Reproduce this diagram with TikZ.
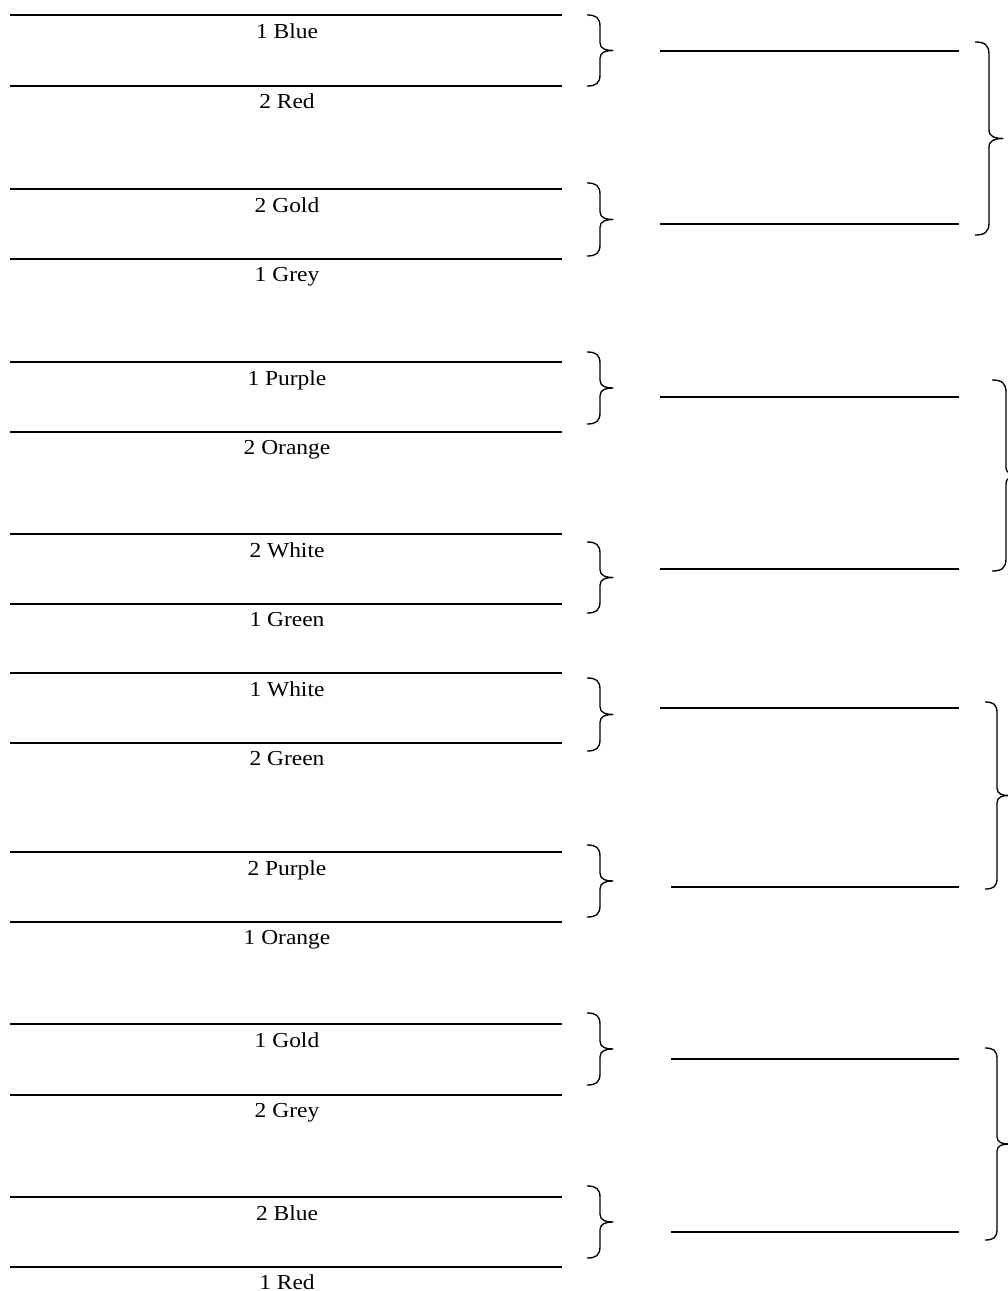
\documentclass[tikz,border=0pt]{standalone}
\usepackage{fontspec}
\setmainfont{Liberation Serif}[FakeStretch=1.1]
% x, top, bottom, depth (all in picture units)
\newcommand{\groupbrace}[4]{%
  \draw[bracestroke]
    (#1,#2) .. controls ({#1+0.35*#4},#2) and ({#1+0.5*#4},{#2+0.1*#4}) ..
    ({#1+0.5*#4},{#2+0.45*#4}) -- ({#1+0.5*#4},{(#2+#3)/2-0.3*#4})
    .. controls ({#1+0.5*#4},{(#2+#3)/2-0.05*#4}) and ({#1+0.75*#4},{(#2+#3)/2}) ..
    ({#1+#4},{(#2+#3)/2})
    .. controls ({#1+0.75*#4},{(#2+#3)/2}) and ({#1+0.5*#4},{(#2+#3)/2+0.05*#4}) ..
    ({#1+0.5*#4},{(#2+#3)/2+0.3*#4}) -- ({#1+0.5*#4},{#3-0.45*#4})
    .. controls ({#1+0.5*#4},{#3-0.1*#4}) and ({#1+0.35*#4},#3) .. (#1,#3);%
}

\begin{document}
\begin{tikzpicture}[x=0.75pt, y=-0.75pt,
    answerline/.style={line width=1.5pt},
    pairlabel/.style={anchor=base, inner sep=0pt, font=\fontsize{16}{19}\selectfont},
    bracestroke/.style={line width=1pt, line join=round}]
  \useasboundingbox (0,0) rectangle (1007,1291);

  % left column: two lines per pair, a label under each
  \foreach \ya/\yb/\ta/\tb [count=\i] in {
      15/86/1 Blue/2 Red,
      189/259/2 Gold/1 Grey,
      362/432/1 Purple/2 Orange,
      534/604/2 White/1 Green,
      673/743/1 White/2 Green,
      852/922/2 Purple/1 Orange,
      1024/1095/1 Gold/2 Grey,
      1197/1267/2 Blue/1 Red} {
    \draw[answerline] (10,\ya) -- (562,\ya);
    \draw[answerline] (10,\yb) -- (562,\yb);
    \node[pairlabel] (upper\i) at (287,\ya+23.5) {\ta};
    \node[pairlabel] (lower\i) at (287,\yb+22.5) {\tb};
  }

  % small braces next to each pair
  \foreach \ba/\bb in {15/86, 183/256, 352/424, 542/613,
      678/751, 845/917, 1013/1085, 1186/1258} {
    \groupbrace{587}{\ba}{\bb}{26}
  }

  % right column
  \draw[answerline] (660,51) -- (959,51);
  \draw[answerline] (660,224) -- (959,224);
  \draw[answerline] (660,397) -- (959,397);
  \draw[answerline] (660,569) -- (959,569);
  \draw[answerline] (660,708) -- (959,708);
  \draw[answerline] (671,887) -- (959,887);
  \draw[answerline] (671,1059) -- (959,1059);
  \draw[answerline] (671,1232) -- (959,1232);

  % big braces
  \groupbrace{975}{42}{235}{28}
  \groupbrace{992}{380}{571}{28}
  \groupbrace{985}{702}{889}{24}
  \groupbrace{985}{1048}{1240}{24}
\end{tikzpicture}
\end{document}
